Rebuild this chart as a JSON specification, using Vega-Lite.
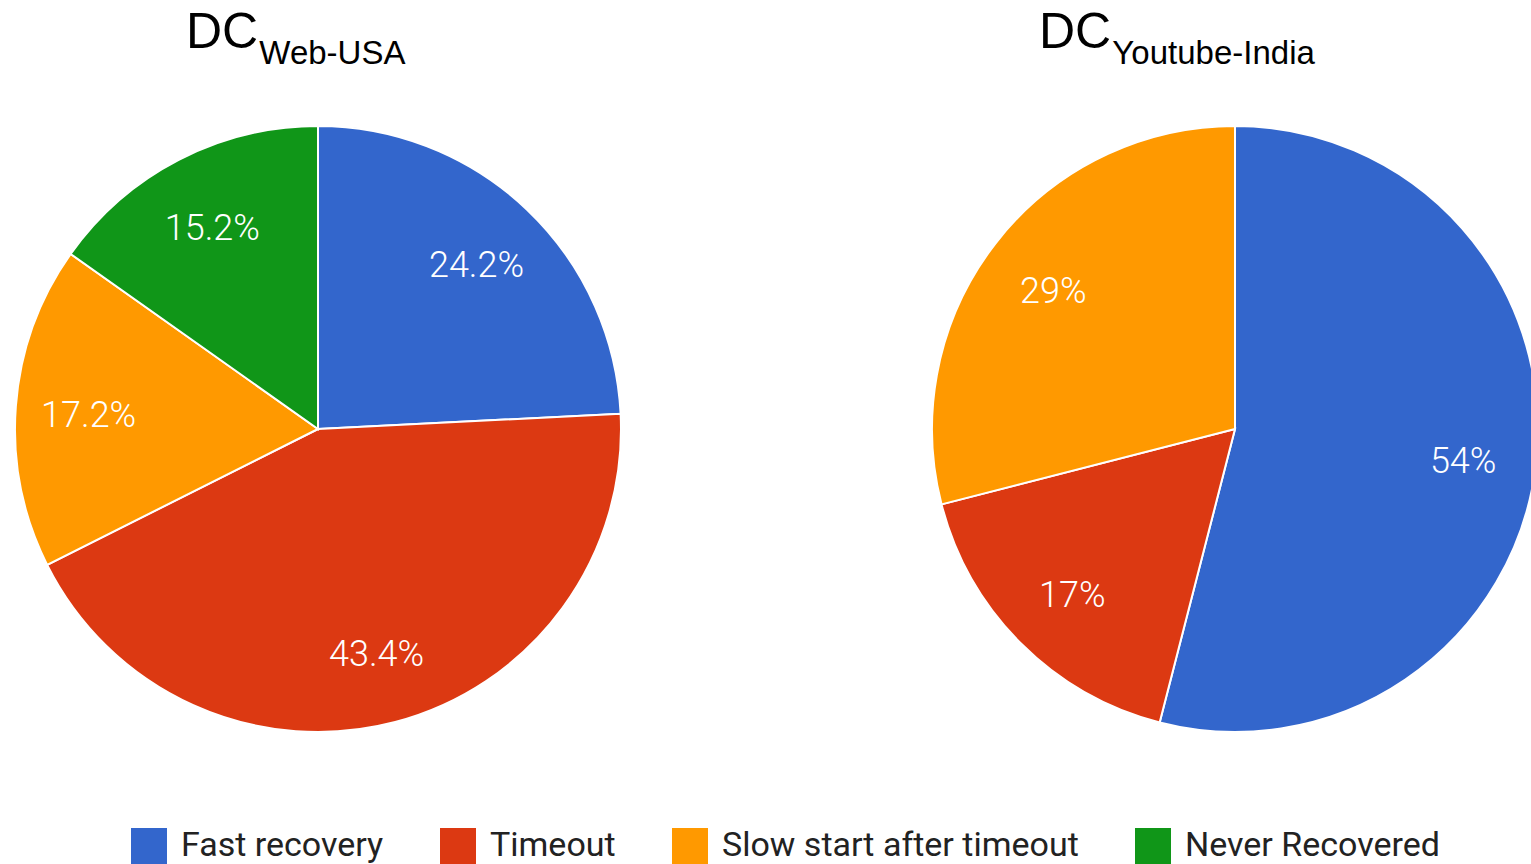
{
  "$schema": "https://vega.github.io/schema/vega-lite/v6.json",
  "background": "white",
  "padding": {"top": 8, "left": 0, "right": 0, "bottom": 0},
  "data": {
    "values": [
      {"dc": "Web-USA", "outcome": "Fast recovery", "share": 0.242, "rank": 1},
      {"dc": "Web-USA", "outcome": "Timeout", "share": 0.434, "rank": 2},
      {"dc": "Web-USA", "outcome": "Slow start after timeout", "share": 0.172, "rank": 3},
      {"dc": "Web-USA", "outcome": "Never Recovered", "share": 0.152, "rank": 4},
      {"dc": "Youtube-India", "outcome": "Fast recovery", "share": 0.54, "rank": 1},
      {"dc": "Youtube-India", "outcome": "Timeout", "share": 0.17, "rank": 2},
      {"dc": "Youtube-India", "outcome": "Slow start after timeout", "share": 0.29, "rank": 3}
    ]
  },
  "spacing": 292,
  "hconcat": [
    {
      "title": {"text": "DC", "subtitle": "\u200b\u00a0\u00a0\u00a0\u00a0\u00a0\u00a0\u00a0\u00a0Web-USA", "dx": 186},
      "width": 636,
      "height": 700,
      "transform": [{"filter": "datum.dc == 'Web-USA'"}],
      "encoding": {
        "theta": {"field": "share", "type": "quantitative", "stack": true},
        "order": {"field": "rank", "type": "quantitative"}
      },
      "layer": [
        {
          "mark": {"type": "arc", "outerRadius": 303, "stroke": "white", "strokeWidth": 2},
          "encoding": {
            "color": {
              "field": "outcome",
              "type": "nominal",
              "scale": {
                "domain": ["Fast recovery", "Timeout", "Slow start after timeout", "Never Recovered"],
                "range": ["#3366cc", "#dc3912", "#ff9900", "#109618"]
              },
              "legend": {"orient": "none", "legendX": 131, "legendY": 749, "direction": "horizontal", "title": null}
            }
          }
        },
        {
          "mark": {"type": "text", "radius": 230, "dy": 4, "fill": "white", "font": "Roboto", "fontSize": 36, "fontWeight": 300},
          "encoding": {
            "text": {"field": "share", "type": "quantitative", "format": ".1~%"}
          }
        }
      ]
    },
    {
      "title": {"text": "DC", "subtitle": "\u200b\u00a0\u00a0\u00a0\u00a0\u00a0\u00a0\u00a0\u00a0Youtube-India", "dx": 111},
      "width": 590,
      "height": 700,
      "transform": [{"filter": "datum.dc == 'Youtube-India'"}],
      "encoding": {
        "theta": {"field": "share", "type": "quantitative", "stack": true},
        "order": {"field": "rank", "type": "quantitative"}
      },
      "layer": [
        {
          "mark": {"type": "arc", "outerRadius": 303, "stroke": "white", "strokeWidth": 2},
          "encoding": {
            "color": {"field": "outcome", "type": "nominal"}
          }
        },
        {
          "mark": {"type": "text", "radius": 230, "dy": 4, "fill": "white", "font": "Roboto", "fontSize": 36, "fontWeight": 300},
          "encoding": {
            "text": {"field": "share", "type": "quantitative", "format": ".1~%"}
          }
        }
      ]
    }
  ],
  "config": {
    "view": {"stroke": null},
    "title": {
      "anchor": "start",
      "font": "Liberation Sans",
      "fontSize": 50,
      "fontWeight": "normal",
      "color": "black",
      "subtitleFont": "Liberation Sans",
      "subtitleFontSize": 33,
      "subtitleColor": "black",
      "subtitlePadding": -20,
      "offset": 8
    },
    "legend": {
      "symbolType": "square",
      "symbolSize": 1296,
      "symbolStrokeWidth": 0,
      "symbolOpacity": 1,
      "labelFont": "Roboto",
      "labelFontSize": 34,
      "labelColor": "#222222",
      "labelOffset": 14,
      "columnPadding": 56,
      "padding": 0,
      "labelLimit": 600
    }
  }
}
